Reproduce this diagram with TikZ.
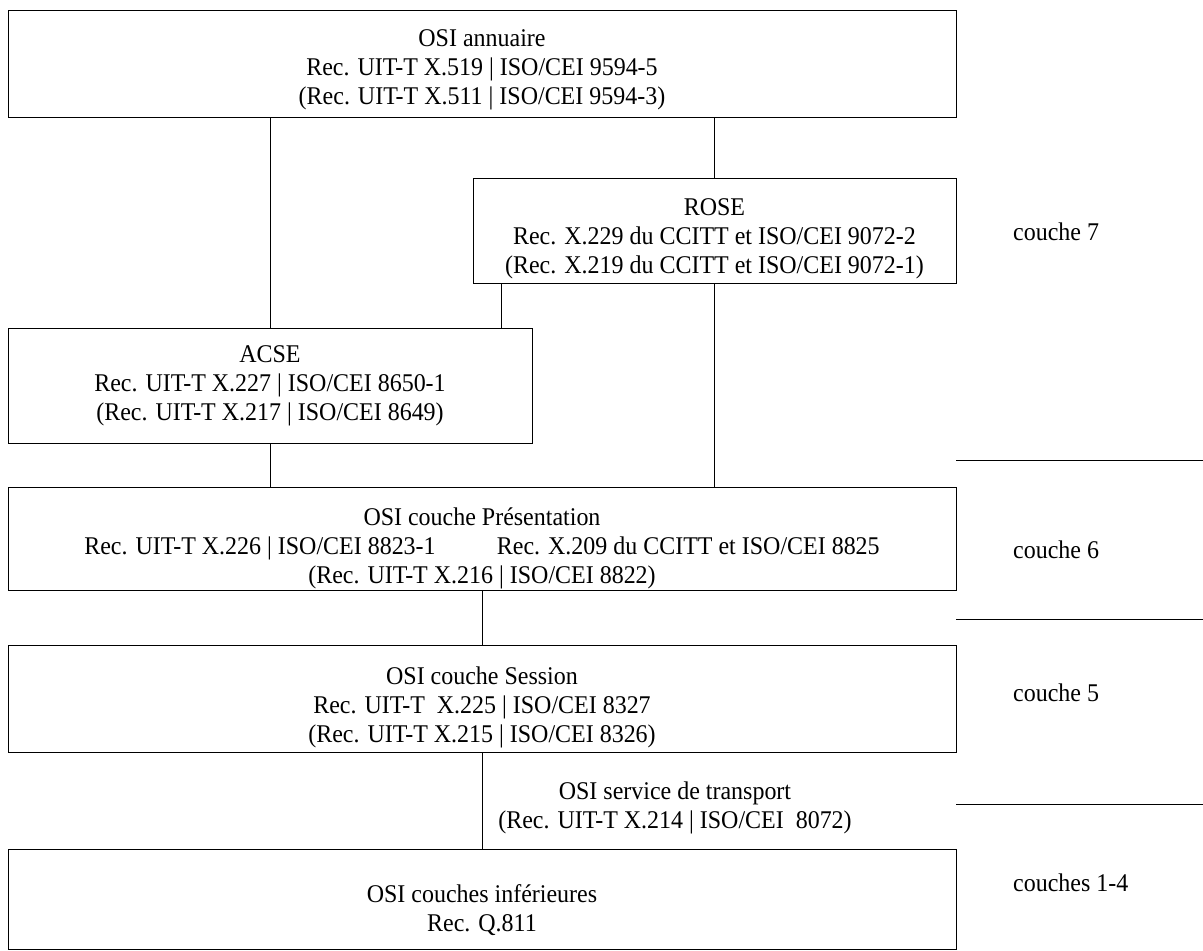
\documentclass[tikz,border=0pt]{standalone}
\usepackage{fontspec}
\setmainfont{Liberation Serif}[FakeStretch=0.94]
\usetikzlibrary{positioning}
\tikzset{
 layerbox/.style={draw,line width=1pt,minimum width=948pt,inner sep=0pt},
 plain/.style={inner sep=0pt,align=center},
 sepline/.style={line width=1pt}
}
\begin{document}
\begin{tikzpicture}[x=1pt,y=-1pt,font=\fontsize{25.5}{29}\selectfont]
 \useasboundingbox (0,0) rectangle (1203,951);
 % boxes
 \node[layerbox,minimum height=107pt] (annu) at (482,63.5) {};
 \node[layerbox,minimum width=483pt,minimum height=105pt] (rose) at (714.5,230.5) {};
 \node[layerbox,minimum width=524pt,minimum height=115pt] (acse) at (270,385.5) {};
 \node[layerbox,minimum height=103pt] (pres) at (482,538.5) {};
 \node[layerbox,minimum height=107pt] (sess) at (482,698.5) {};
 \node[layerbox,minimum height=100pt] (low) at (482,899) {};
 % texts
 \node[plain,yshift=-6pt] (annutxt) at (annu) {OSI annuaire\\Rec. UIT-T X.519 | ISO/CEI 9594-5\\(Rec. UIT-T X.511 | ISO/CEI 9594-3)};
 \node[plain,yshift=-8pt] (rosetxt) at (rose) {ROSE\\Rec. X.229 du CCITT et ISO/CEI 9072-2\\(Rec. X.219 du CCITT et ISO/CEI 9072-1)};
 \node[plain] (acsetxt) at (acse) {ACSE\\Rec. UIT-T X.227 | ISO/CEI 8650-1\\(Rec. UIT-T X.217 | ISO/CEI 8649)};
 \node[plain,yshift=-10pt] (prestxt) at (pres) {OSI couche Présentation\\Rec. UIT-T X.226 | ISO/CEI 8823-1\hspace{2.4em}Rec. X.209 du CCITT et ISO/CEI 8825\\(Rec. UIT-T X.216 | ISO/CEI 8822)};
 \node[plain,yshift=-9pt] (sesstxt) at (sess) {OSI couche Session\\Rec. UIT-T\ \ X.225 | ISO/CEI 8327\\(Rec. UIT-T X.215 | ISO/CEI 8326)};
 \node[plain,yshift=-11pt] (lowtxt) at (low) {OSI couches inférieures\\Rec. Q.811};
 \node[plain] (transport) at (675,808) {OSI service de transport\\(Rec. UIT-T X.214 | ISO/CEI\ \ 8072)};
 % links
 \draw[sepline] (acse.north |- annu.south) -- (acse.north);
 \draw[sepline] (rose.north |- annu.south) -- (rose.north);
 \draw[sepline] ([xshift=29pt]rose.south west) -- ([xshift=29pt]rose.south west |- acse.north);
 \draw[sepline] (rose.south) -- (rose.south |- pres.north);
 \draw[sepline] (acse.south) -- (acse.south |- pres.north);
 \draw[sepline] (pres.south) -- (sess.north);
 \draw[sepline] (sess.south) -- (low.north);
 % layers
 \foreach \y in {460,619,804}
  \draw[sepline] (956,\y) -- (1203,\y);
 \node[plain,anchor=west] (c7) at (1013,232) {couche 7};
 \node[plain,anchor=west] (c6) at (1013,550) {couche 6};
 \node[plain,anchor=west] (c5) at (1013,693) {couche 5};
 \node[plain,anchor=west] (c14) at (1013,883) {couches 1-4};
\end{tikzpicture}
\end{document}
